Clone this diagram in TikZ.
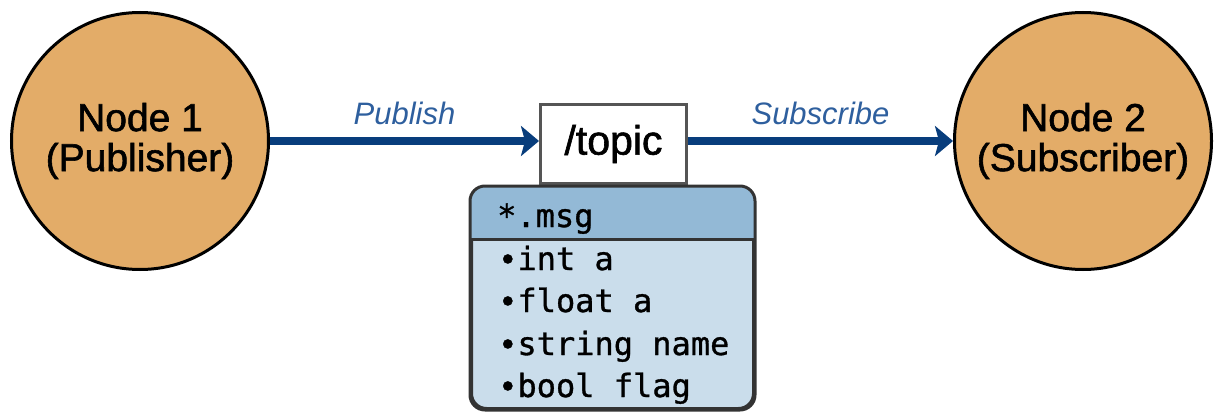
\documentclass[tikz,border=0pt]{standalone}
\usepackage{fontspec}
\setmainfont{Liberation Sans}
\newfontfamily\heavyfont[FakeBold=1.5]{Liberation Sans}
\newfontfamily\codefont[FakeBold=1.0]{DejaVu Sans Mono}
\usetikzlibrary{arrows.meta,calc}

\definecolor{nodefill}{HTML}{E3AC68}
\definecolor{hdrfill}{HTML}{93B9D6}
\definecolor{bodyfill}{HTML}{CADDEB}
\definecolor{linkblue}{HTML}{083D7C}
\definecolor{labelblue}{HTML}{2E5F9E}
\definecolor{boxgray}{HTML}{555555}
\definecolor{msgborder}{HTML}{333333}

\tikzset{
  rosnode/.style={circle, draw=black, line width=3pt, fill=nodefill,
    minimum size=257pt, inner sep=0pt, align=center,
    font=\heavyfont\fontsize{39}{40}\selectfont},
  topicbox/.style={rectangle, draw=boxgray, line width=3pt, fill=white,
    minimum width=146pt, minimum height=79pt, inner sep=0pt,
    font=\heavyfont\fontsize{41}{44}\selectfont},
  msgbox/.style={rectangle, rounded corners=15pt, draw=msgborder, line width=3pt,
    fill=bodyfill, minimum width=282pt, minimum height=221pt, inner sep=0pt},
  link/.style={draw=linkblue, line width=8pt,
    -{Stealth[length=18pt,width=30pt,inset=4pt]}},
  linklabel/.style={midway, above=12pt, inner sep=0pt, text=labelblue,
    font=\fontsize{31}{34}\selectfont\itshape},
  codeline/.style={anchor=base west, inner sep=0pt,
    font=\codefont\fontsize{32}{34}\selectfont}
}

\begin{document}
\begin{tikzpicture}[x=1pt,y=-1pt]
  \useasboundingbox (0,0) rectangle (1216,412);

  % publisher and subscriber
  \node[rosnode] (pub) at (140,141) {Node 1\\(Publisher)};
  \node[rosnode] (sub) at (1083,141) {Node 2\\(Subscriber)};

  % topic
  \node[topicbox] (topic) at (613.5,144) {/topic};

  % message definition
  \node[msgbox] (msg) at (612.5,298) {};
  \begin{scope}
    \clip[rounded corners=15pt] (msg.south west) rectangle (msg.north east);
    \fill[hdrfill] (msg.north west) rectangle ($(msg.north east)+(0,53)$);
  \end{scope}
  \draw[msgborder, line width=3pt] ($(msg.north west)+(0,53)$) -- ($(msg.north east)+(0,53)$);
  \draw[msgborder, line width=3pt, rounded corners=15pt]
    (msg.south west) rectangle (msg.north east);

  \node[codeline] (mtype) at (497,227) {*.msg};
  \node[codeline] (fa) at (498,270) {∙int a};
  \node[codeline] (fb) at (498,312) {∙float a};
  \node[codeline] (fc) at (498,355) {∙string name};
  \node[codeline] (fd) at (498,397) {∙bool flag};

  % connections
  \draw[link] (pub.east) -- (pub.east -| topic.west)
    node[linklabel] {Publish};
  \draw[link] (topic.east |- pub.east) -- (sub.west)
    node[linklabel] {Subscribe};
\end{tikzpicture}
\end{document}
